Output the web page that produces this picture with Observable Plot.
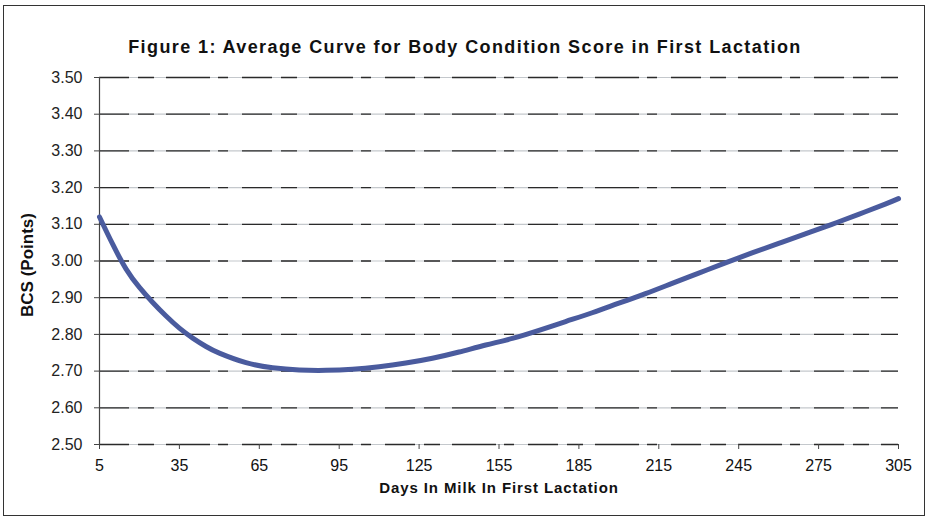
<!DOCTYPE html>
<html>
<head>
<meta charset="utf-8">
<script src="https://cdn.jsdelivr.net/npm/d3@7"></script>
<script src="https://cdn.jsdelivr.net/npm/@observablehq/plot@0.6"></script>
<style>
  body { margin: 0; background: #fff; }
  #wrap { position: relative; width: 930px; height: 522px; overflow: hidden; font-family: "Liberation Sans", Arial, sans-serif; }
  #frame { position: absolute; left: 3px; top: 5px; width: 922px; height: 511px; border: 1.5px solid #333; box-sizing: border-box; pointer-events: none; }
  #title { height: 60px; box-sizing: border-box; padding-top: 37px; line-height: 20px; text-align: center; font-weight: bold; font-size: 18px; letter-spacing: 1.4px; color: #111; }
  #chart svg { display: block; }
</style>
</head>
<body>
<div id="wrap">
  <div id="title">Figure 1: Average Curve for Body Condition Score in First Lactation</div>
  <div id="chart"></div>
  <div id="frame"></div>
</div>
<script>
const days = [5, 10, 15, 20, 25, 30, 35, 40, 45, 50, 60, 70, 80, 90, 100, 110, 120, 130, 140, 150, 160, 170, 180, 190, 200, 210, 220, 230, 240, 250, 260, 270, 280, 290, 300, 305];
const bcs  = [3.12, 3.045, 2.978, 2.928, 2.887, 2.85, 2.817, 2.79, 2.767, 2.749, 2.723, 2.709, 2.703, 2.702, 2.705, 2.712, 2.722, 2.735, 2.752, 2.771, 2.789, 2.811, 2.835, 2.859, 2.885, 2.911, 2.939, 2.967, 2.995, 3.022, 3.048, 3.074, 3.1, 3.127, 3.155, 3.17];
const xTicks = [5, 35, 65, 95, 125, 155, 185, 215, 245, 275, 305];
const yTicks = [2.5, 2.6, 2.7, 2.8, 2.9, 3.0, 3.1, 3.2, 3.3, 3.4, 3.5];
const xTitle = "Days In Milk In First Lactation";
const yTitle = "BCS (Points)";

const data = days.map((d, i) => ({day: d, bcs: bcs[i]}));

const chart = Plot.plot({
  width: 930,
  height: 462,
  marginTop: 17,
  marginBottom: 78,
  marginLeft: 99,
  marginRight: 32,
  style: { fontFamily: "'Liberation Sans', Arial, sans-serif", fontSize: "16px", color: "#222", background: "transparent" },
  x: { domain: [5, 305], ticks: xTicks, label: null },
  y: { domain: [2.5, 3.5], ticks: yTicks, label: null },
  marks: [
    Plot.ruleY(yTicks, { x1: 5, x2: 305, stroke: "#c4c8cc", strokeWidth: 1.2 }),
    Plot.ruleY(yTicks, { x1: 5, x2: 305, stroke: "#2a2a2a", strokeWidth: 1.3, strokeDasharray: "30,9,16,12,44,8,10,14" }),
    Plot.ruleX([5], { y1: 2.5, y2: 3.5, stroke: "#444", strokeWidth: 1.2 }),
    Plot.axisX({ ticks: xTicks, tickSize: 5, tickPadding: 10, stroke: "#444", fill: "#111", fontSize: 16 }),
    Plot.axisY({ ticks: yTicks, tickSize: 5, tickPadding: 12, tickFormat: d => d.toFixed(2), stroke: "#444", fill: "#222", fontSize: 16 }),
    Plot.line(data, { x: "day", y: "bcs", stroke: "#4a5b9e", strokeWidth: 5, curve: "natural" }),
    Plot.text([xTitle], { frameAnchor: "bottom", dy: 48, text: d => d, fontWeight: "bold", fontSize: 15, fill: "#111" }),
    Plot.text([yTitle], { frameAnchor: "left", textAnchor: "middle", dx: -72, dy: 4, rotate: -90, text: d => d, fontWeight: "bold", fontSize: 17, fill: "#111" })
  ]
});
chart.querySelectorAll("text").forEach(t => { if (t.textContent === xTitle) t.style.letterSpacing = "0.9px"; });
document.getElementById("chart").appendChild(chart);
</script>
</body>
</html>
